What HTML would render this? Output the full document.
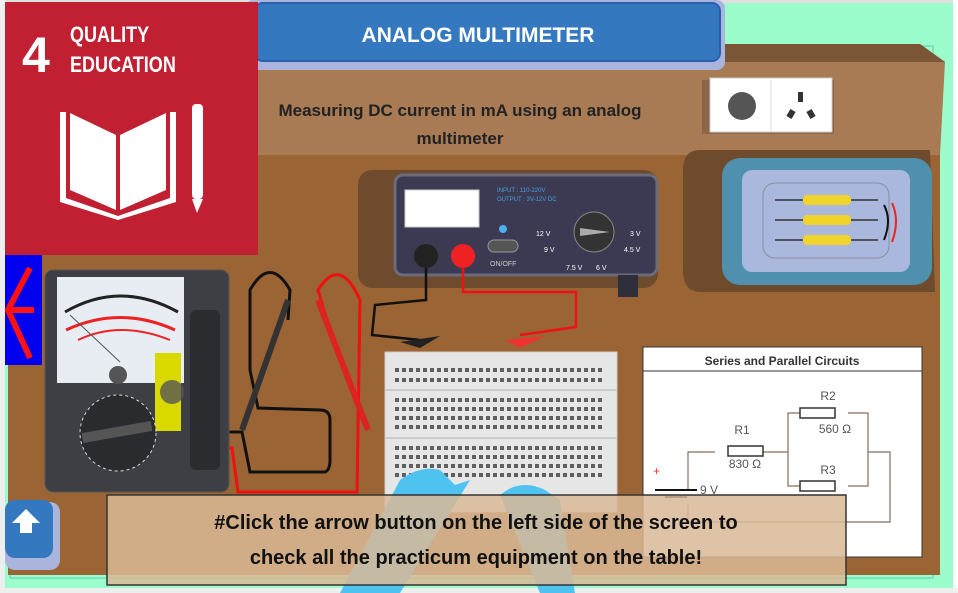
<!DOCTYPE html>
<html><head><meta charset="utf-8"><style>
html,body{margin:0;padding:0;width:958px;height:593px;overflow:hidden;background:#fff}
svg{display:block}
text{font-family:"Liberation Sans",sans-serif}
</style></head><body>
<svg width="958" height="593" viewBox="0 0 958 593" xmlns="http://www.w3.org/2000/svg">
<rect width="958" height="593" fill="#9bfdcb"/>
<rect x="0" y="0" width="958" height="3" fill="#e0e0e0"/>
<rect x="0" y="0" width="5" height="593" fill="#eee"/>
<rect x="953" y="0" width="5" height="593" fill="#fff"/>
<rect x="0" y="588" width="958" height="5" fill="#eee"/>
<rect x="10" y="46" width="923" height="532" fill="none" stroke="#5cc9b0" stroke-width="1"/>
<polygon points="258,48 920,44 945,62 940,155 258,155" fill="#a87b55"/>
<polygon points="720,44 920,44 945,62 720,62" fill="#7b5636"/>
<rect x="8" y="155" width="932" height="420" fill="#9b6434"/>
<rect x="245" y="0" width="480" height="70" rx="8" fill="#a9b5dc"/>
<rect x="255" y="3" width="465" height="58" rx="8" fill="#3478bf" stroke="#2b5fae" stroke-width="2"/>
<text x="478" y="42" text-anchor="middle" font-size="21" font-weight="bold" fill="#fff">ANALOG MULTIMETER</text>
<text x="460" y="116" text-anchor="middle" font-size="17" font-weight="bold" fill="#222">Measuring DC current in mA using an analog</text>
<text x="460" y="144" text-anchor="middle" font-size="17" font-weight="bold" fill="#222">multimeter</text>
<rect x="702" y="80" width="132" height="54" fill="#8b6548"/>
<rect x="710" y="78" width="122" height="54" fill="#fff" stroke="#ccc"/>
<line x1="771" y1="80" x2="771" y2="132" stroke="#ddd"/>
<circle cx="742" cy="106" r="14" fill="#555"/>
<rect x="798" y="92" width="5" height="10" fill="#333"/>
<rect x="788" y="110" width="6" height="8" fill="#333" transform="rotate(30 791 114)"/>
<rect x="808" y="110" width="6" height="8" fill="#333" transform="rotate(-30 811 114)"/>
<rect x="358" y="170" width="300" height="118" rx="14" fill="#6e4b2d"/>
<rect x="395" y="175" width="262" height="100" rx="8" fill="#3b3a52" stroke="#6b6b7a" stroke-width="3"/>
<rect x="405" y="190" width="74" height="37" fill="#fff" stroke="#ccc"/>
<rect x="618" y="275" width="20" height="22" fill="#2f2f3c"/>
<text x="497" y="192" font-size="6" fill="#4aa0e0">INPUT : 110-220V</text>
<text x="497" y="201" font-size="6" fill="#4aa0e0">OUTPUT : 3V-12V DC</text>
<circle cx="503" cy="229" r="4" fill="#4ab0f0"/>
<rect x="488" y="240" width="30" height="12" rx="6" fill="#555" stroke="#999"/>
<text x="490" y="266" font-size="7" fill="#ccc">ON/OFF</text>
<circle cx="594" cy="232" r="20" fill="#333" stroke="#888"/>
<polygon points="580,228 610,232 580,236" fill="#aaa"/>
<text x="536" y="236" font-size="7" fill="#fff">12 V</text>
<text x="544" y="252" font-size="7" fill="#fff">9 V</text>
<text x="630" y="236" font-size="7" fill="#fff">3 V</text>
<text x="624" y="252" font-size="7" fill="#fff">4.5 V</text>
<text x="566" y="270" font-size="7" fill="#fff">7.5 V</text>
<text x="596" y="270" font-size="7" fill="#fff">6 V</text>
<circle cx="426" cy="256" r="12" fill="#222"/>
<circle cx="463" cy="256" r="12" fill="#e22"/>
<path d="M700,150 L930,150 L935,292 L700,292 Q683,292 683,270 L683,170 Q683,150 700,150 Z" fill="#6e4b2d"/>
<rect x="722" y="158" width="210" height="127" rx="18" fill="#4e90ad"/>
<rect x="742" y="170" width="168" height="102" rx="10" fill="#a9b8dc"/>
<rect x="763" y="183" width="126" height="75" rx="12" fill="none" stroke="#8a8fa0"/>
<g stroke="#333" stroke-width="1.5">
<line x1="775" y1="200" x2="878" y2="200"/><line x1="775" y1="220" x2="878" y2="220"/><line x1="775" y1="240" x2="878" y2="240"/></g>
<rect x="803" y="195" width="48" height="10" rx="4" fill="#f0d42a"/>
<rect x="803" y="215" width="48" height="10" rx="4" fill="#f0d42a"/>
<rect x="803" y="235" width="48" height="10" rx="4" fill="#f0d42a"/>
<path d="M884,205 Q892,220 884,240" fill="none" stroke="#111" stroke-width="2"/>
<path d="M892,203 Q900,220 892,242" fill="none" stroke="#e22" stroke-width="2"/>
<path d="M426,268 L426,300 L375,305 L372,335 L420,340" fill="none" stroke="#111" stroke-width="2.5"/>
<path d="M463,268 L463,292 L576,292 L576,327 L520,335" fill="none" stroke="#e11" stroke-width="2.5"/>
<polygon points="400,342 440,336 420,348" fill="#222"/>
<polygon points="505,340 545,336 520,348" fill="#e33"/>
<path d="M205,465 L205,432 L242,432 L250,472 L325,472 Q330,470 330,460 L330,420 Q330,410 320,410 L258,408 L250,370 L250,290 Q270,255 290,290 L288,320" fill="none" stroke="#111" stroke-width="3"/>
<path d="M213,465 L213,448 L232,448 L238,492 L357,492 L360,300 Q340,255 318,290 L330,330" fill="none" stroke="#e11" stroke-width="3"/>
<line x1="288" y1="300" x2="242" y2="430" stroke="#333" stroke-width="6"/>
<line x1="318" y1="300" x2="368" y2="430" stroke="#d22" stroke-width="6"/>
<rect x="45" y="270" width="184" height="222" rx="8" fill="#3d3f44" stroke="#555"/>
<rect x="57" y="277" width="127" height="106" fill="#e8edf3"/>
<path d="M65,312 Q120,280 178,312" fill="none" stroke="#222" stroke-width="3"/>
<path d="M66,330 Q120,305 175,330" fill="none" stroke="#e22" stroke-width="3"/>
<path d="M78,340 Q120,320 170,340" fill="none" stroke="#e22" stroke-width="2"/>
<line x1="70" y1="315" x2="120" y2="362" stroke="#555"/>
<circle cx="118" cy="375" r="9" fill="#555"/>
<rect x="155" y="353" width="26" height="78" fill="#d9d900"/>
<circle cx="172" cy="392" r="12" fill="#555" opacity="0.8"/>
<rect x="190" y="310" width="30" height="160" rx="6" fill="#2b2c30"/>
<circle cx="118" cy="433" r="38" fill="#2a2b2f" stroke="#ddd" stroke-dasharray="3 3"/>
<rect x="82" y="427" width="70" height="10" fill="#555" transform="rotate(-10 117 432)"/>
<rect x="385" y="352" width="232" height="160" fill="#e6e6e6" stroke="#ccc"/>
<line x1="385" y1="390" x2="617" y2="390" stroke="#ccc" stroke-width="2"/>
<line x1="385" y1="438" x2="617" y2="438" stroke="#ccc" stroke-width="2"/>
<g stroke="#333" stroke-width="4" stroke-dasharray="4 3" opacity="0.75">
<line x1="395" y1="370" x2="605" y2="370"/><line x1="395" y1="380" x2="605" y2="380"/>
<line x1="395" y1="400" x2="605" y2="400"/><line x1="395" y1="409" x2="605" y2="409"/>
<line x1="395" y1="418" x2="605" y2="418"/><line x1="395" y1="427" x2="605" y2="427"/>
<line x1="395" y1="448" x2="605" y2="448"/><line x1="395" y1="457" x2="605" y2="457"/>
<line x1="395" y1="466" x2="605" y2="466"/><line x1="395" y1="475" x2="605" y2="475"/>
</g>
<rect x="643" y="347" width="279" height="210" fill="#fff" stroke="#333"/>
<line x1="643" y1="371" x2="922" y2="371" stroke="#333"/>
<text x="782" y="365" text-anchor="middle" font-size="12" font-weight="bold" fill="#333">Series and Parallel Circuits</text>
<g stroke="#8b6b5a" fill="none" stroke-width="1.2">
<path d="M688,490 L688,452 L715,452 M763,452 L788,452 L788,413 L800,413 M848,413 L868,413 L868,452 L890,452 L890,522 L688,522 L688,505 M788,452 L788,486 L800,486 M848,486 L868,486 L868,452"/>
</g>
<g stroke="#333" fill="#fff" stroke-width="1.5">
<rect x="728" y="446" width="35" height="10"/><rect x="800" y="408" width="35" height="10"/><rect x="800" y="481" width="35" height="10"/>
</g>
<line x1="655" y1="490" x2="697" y2="490" stroke="#111" stroke-width="2"/>
<line x1="665" y1="497" x2="687" y2="497" stroke="#111" stroke-width="2"/>
<text x="653" y="475" font-size="12" fill="#e33">+</text>
<text x="742" y="434" text-anchor="middle" font-size="12" fill="#555">R1</text>
<text x="745" y="468" text-anchor="middle" font-size="12" fill="#555">830 Ω</text>
<text x="828" y="400" text-anchor="middle" font-size="12" fill="#555">R2</text>
<text x="835" y="433" text-anchor="middle" font-size="12" fill="#555">560 Ω</text>
<text x="828" y="474" text-anchor="middle" font-size="12" fill="#555">R3</text>
<text x="700" y="494" font-size="12" fill="#555">9 V</text>
<path d="M340,593 L400,480 Q420,465 440,470 L455,485 L470,480 L400,593 Z" fill="#4fc3f0"/>
<path d="M540,593 L500,495 Q520,478 545,490 L560,500 L575,593 Z" fill="#4fc3f0"/>
<rect x="107" y="495" width="739" height="90" fill="#d9b896" fill-opacity="0.85" stroke="#333" stroke-width="1.5"/>
<text x="476" y="529" text-anchor="middle" font-size="20" font-weight="bold" fill="#111">#Click the arrow button on the left side of the screen to</text>
<text x="476" y="564" text-anchor="middle" font-size="20" font-weight="bold" fill="#111">check all the practicum equipment on the table!</text>
<rect x="5" y="502" width="55" height="68" rx="10" fill="#a9b5dc"/>
<rect x="5" y="500" width="48" height="58" rx="10" fill="#3478bf"/>
<polygon points="26,509 40,523 32,523 32,533 20,533 20,523 12,523" fill="#fff"/>
<rect x="5" y="255" width="37" height="110" fill="#0000ee"/>
<polyline points="30,268 8,310 30,358" fill="none" stroke="#f11" stroke-width="6"/>
<line x1="8" y1="310" x2="34" y2="310" stroke="#f11" stroke-width="6"/>
<rect x="5" y="2" width="253" height="253" fill="#c11f32"/>
<text x="22" y="72" font-size="50" font-weight="bold" fill="#fff">4</text>
<text transform="translate(70,42) scale(0.82,1)" font-size="22" font-weight="bold" fill="#fff">QUALITY</text>
<text transform="translate(70,72) scale(0.82,1)" font-size="22" font-weight="bold" fill="#fff">EDUCATION</text>
<g fill="#fff">
<polygon points="70,113 116,135 116,210 70,190"/>
<polygon points="120,135 166,113 166,190 120,210"/>
<polygon points="60,112 66,112 66,198 118,216 170,198 170,112 176,112 176,202 118,220 60,202"/>
<rect x="192" y="104" width="11" height="95" rx="4"/>
<polygon points="192,199 203,199 197,213"/>
</g>
</svg>
</body></html>
